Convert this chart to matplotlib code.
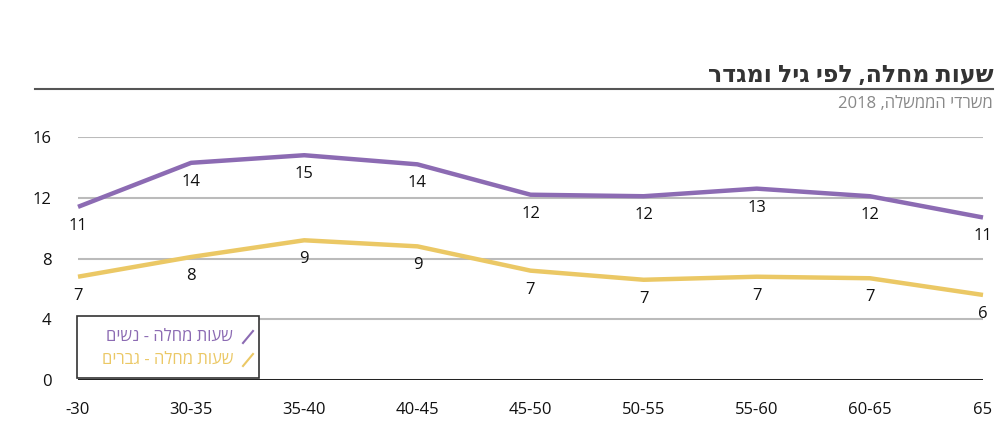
import matplotlib
matplotlib.use("Agg")
import matplotlib.pyplot as plt
from matplotlib.lines import Line2D
from matplotlib.patches import Rectangle

# data
age_groups = ["-30", "30-35", "35-40", "40-45", "45-50", "50-55", "55-60", "60-65", "65"]
women = [11.4, 14.3, 14.8, 14.2, 12.2, 12.1, 12.6, 12.1, 10.7]
men = [6.8, 8.1, 9.2, 8.8, 7.2, 6.6, 6.8, 6.7, 5.6]
y_ticks = [0, 4, 8, 12, 16]

# hebrew strings are given in visual (left-to-right) order
title = "רדגמו ליג יפל ,הלחמ תועש"
subtitle = "2018 ,הלשממה ידרשמ"
label_women = "םישנ - הלחמ תועש"
label_men = "םירבג - הלחמ תועש"

PURPLE = "#8c6bb3"
YELLOW = "#ebc865"

plt.rcParams["font.family"] = ["Open Sans", "DejaVu Sans"]

W, H = 1007, 440
fig = plt.figure(figsize=(W / 100, H / 100), dpi=100)
ax = fig.add_axes([78 / W, 60 / H, (983 - 78) / W, (380 - 137) / H])


def fx(px):
    return px / W


def fy(py):
    return 1 - py / H


x = list(range(len(age_groups)))
ax.plot(x, women, color=PURPLE, lw=3.2, solid_capstyle="butt", clip_on=False, zorder=3)
ax.plot(x, men, color=YELLOW, lw=3.2, solid_capstyle="butt", clip_on=False, zorder=3)

for xi, v in zip(x, women):
    ax.annotate(f"{v:.0f}", (xi, v), xytext=(0, -19), textcoords="offset pixels",
                ha="center", va="center", fontsize=12, color="#111111")
for xi, v in zip(x, men):
    ax.annotate(f"{v:.0f}", (xi, v), xytext=(0, -19), textcoords="offset pixels",
                ha="center", va="center", fontsize=12, color="#111111")

ax.set_xlim(0, len(age_groups) - 1)
ax.set_ylim(0, 16)
ax.set_xticks(x)
ax.set_xticklabels(age_groups, fontsize=12)
ax.set_yticks(y_ticks)
ax.set_yticklabels([str(t) for t in y_ticks], fontsize=12)
ax.tick_params(axis="both", length=0, colors="#111111")
ax.tick_params(axis="x", pad=16)
ax.tick_params(axis="y", pad=19)

for s in ax.spines.values():
    s.set_visible(False)
ax.yaxis.grid(True, color="#bbbbbb", lw=1.5)
ax.set_axisbelow(True)
ax.axhline(0, color="#111111", lw=2, zorder=2)

# legend box drawn by hand: rtl, marker on the right
fig.add_artist(Rectangle((fx(77), fy(378)), fx(259) - fx(77), fy(316) - fy(378),
                         facecolor="white", edgecolor="#333333", lw=1.2, zorder=5))
for row_y, lab, col in [(337, label_women, PURPLE), (360, label_men, YELLOW)]:
    fig.add_artist(Line2D([fx(243), fx(253)], [fy(row_y + 6), fy(row_y - 6)],
                          color=col, lw=1.5, zorder=6))
    fig.text(fx(233), fy(row_y), lab, ha="right", va="center", fontsize=12,
             fontweight="medium", color=col, zorder=6)

# title block
fig.text(fx(993), fy(82), title, ha="right", va="baseline", fontsize=17,
         fontweight="bold", color="#333333")
fig.add_artist(Line2D([fx(35), fx(993)], [fy(89), fy(89)], color="#555555", lw=1.5))
fig.text(fx(993), fy(108), subtitle, ha="right", va="baseline", fontsize=12,
         color="#888888")

fig.savefig("out.png", dpi=100)
